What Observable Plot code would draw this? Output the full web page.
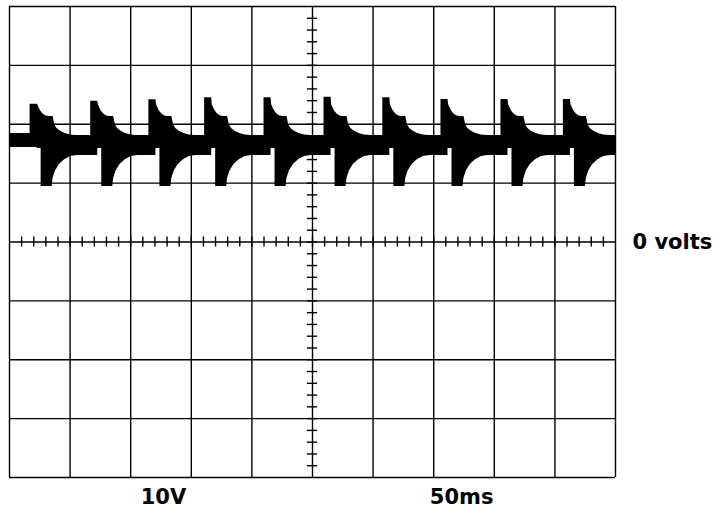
<!DOCTYPE html>
<html>
<head>
<meta charset="utf-8">
<script src="https://cdn.jsdelivr.net/npm/d3@7"></script>
<script src="https://cdn.jsdelivr.net/npm/@observablehq/plot@0.6"></script>
<style>
  html, body { margin: 0; padding: 0; background: #fff; }
  svg { display: block; overflow: visible; }
</style>
</head>
<body>
<div id="chart"></div>
<script>
// ---- Scope screen: 10 divisions x 50 ms, 8 divisions x 10 V ----
const timeDivs = [0, 50, 100, 150, 200, 250, 300, 350, 400, 450, 500];      // ms
const voltDivs = [-40, -30, -20, -10, 0, 10, 20, 30, 40];                    // V
const timeMinor = d3.range(10, 500, 10);                                     // 0.2 div marks on centre line
const voltMinor = d3.range(-38, 40, 2);
const labels = ["10V", "50ms", "0 volts"];
const labelTimes = [127, 373];   // ms position of the scale labels under the screen

// ---- Trace ----
// rising edge of each pulse (ms) and its peak level (V)
const pulseStart = [17, 67, 115, 161, 210, 259.5, 308, 356, 405.5, 457];
const pulsePeak  = [23.4, 23.9, 24.15, 24.5, 24.5, 24.6, 24.5, 24.2, 24.2, 24.2];
const peakHold = 5.8;            // ms the peak stays flat
// upper edge of the trace after the peak (ms after rising edge, V)
const upperOffset = [6.3, 7.1, 8.7, 10.7, 13.1, 15.7, 19.0, 19.8, 20.4, 22.2, 25.1, 28.9, 33.3, 38.0];
const upperVolts  = [23.3, 22.93, 22.27, 21.74, 21.42, 21.32, 21.32, 20.47, 19.86, 19.28, 18.79, 18.41, 18.17, 18.09];
// lower edge of the trace: notch, negative spike and recovery
const lowerOffset = [5.8, 9.1, 9.1, 18.2, 18.9, 20.9, 24.2, 28.5, 33.4, 38.8];
const lowerVolts  = [15.9, 15.9, 9.42, 9.42, 10.79, 12.06, 13.15, 13.98, 14.51, 14.69];
const leadUpper = 18.43, leadLower = 16.05;   // trace before first pulse

const upper = [{t: 0, v: leadUpper}];
pulseStart.forEach((t0, k) => {
  upper.push({t: t0, v: upper[upper.length - 1].v});
  upper.push({t: t0, v: pulsePeak[k]});
  upper.push({t: t0 + peakHold, v: pulsePeak[k]});
  upperOffset.forEach((o, i) => upper.push({t: t0 + o, v: upperVolts[i]}));
});
upper.push({t: 500, v: upper[upper.length - 1].v});

const lower = [{t: 0, v: leadLower}];
pulseStart.forEach(t0 => {
  lower.push({t: t0 + lowerOffset[0], v: lower[lower.length - 1].v});
  lowerOffset.forEach((o, i) => lower.push({t: t0 + o, v: lowerVolts[i]}));
});
lower.push({t: 500, v: lower[lower.length - 1].v});

const core = [16.5, 17.5];   // overlap between the two halves of the thick trace
const tickHalfV = 0.85, tickHalfT = 4.2;

const chart = Plot.plot({
  width: 715,
  height: 512,
  marginLeft: 9,
  marginRight: 100,
  marginTop: 6,
  marginBottom: 35,
  x: {domain: [0, 500], axis: null},
  y: {domain: [-40, 40], axis: null},
  style: {background: "#fff", overflow: "visible"},
  marks: [
    Plot.ruleX(timeDivs, {stroke: "#000", strokeWidth: 1.4}),
    Plot.ruleY(voltDivs, {stroke: "#000", strokeWidth: 1.4}),
    Plot.ruleX(timeMinor, {x: d => d, y1: -tickHalfV, y2: tickHalfV, stroke: "#000", strokeWidth: 1.4}),
    Plot.ruleY(voltMinor, {y: d => d, x1: 250 - tickHalfT, x2: 250 + tickHalfT, stroke: "#000", strokeWidth: 1.4}),
    Plot.areaY(upper, {x: "t", y1: core[0], y2: "v", fill: "#000", curve: "linear"}),
    Plot.areaY(lower, {x: "t", y1: "v", y2: core[1], fill: "#000", curve: "linear"}),
    Plot.text([labels[0], labels[1]], {
      x: (d, i) => labelTimes[i], y: -40, dy: 20,
      text: d => d, fill: "#000", fontSize: 21, fontWeight: "bold",
      fontFamily: "DejaVu Sans, Liberation Sans, sans-serif"
    }),
    Plot.text([labels[2]], {
      x: 500, y: 0, dx: 17, textAnchor: "start",
      text: d => d, fill: "#000", fontSize: 21, fontWeight: "bold",
      fontFamily: "DejaVu Sans, Liberation Sans, sans-serif"
    })
  ]
});
document.getElementById("chart").appendChild(chart);
</script>
</body>
</html>
